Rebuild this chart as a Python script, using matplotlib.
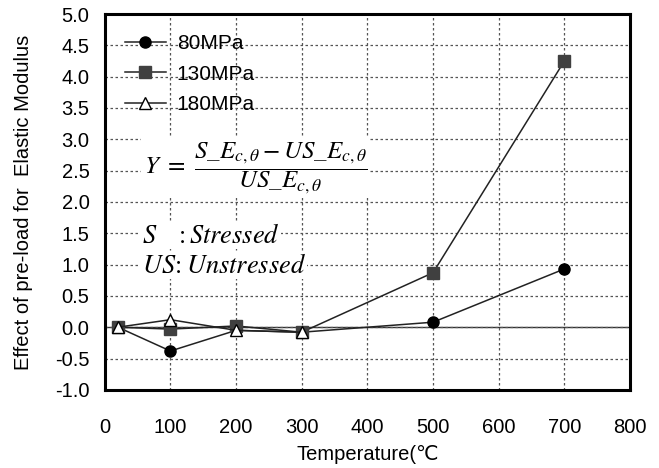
import matplotlib
import matplotlib.pyplot as plt

matplotlib.use('Agg')

plt.rcParams['font.family'] = ['Liberation Sans', 'DejaVu Sans']
plt.rcParams['mathtext.fontset'] = 'stix'

temps_80 = [20, 100, 200, 300, 500, 700]
vals_80 = [0.0, -0.38, -0.05, -0.08, 0.08, 0.93]
temps_130 = [20, 100, 200, 300, 500, 700]
vals_130 = [0.0, -0.03, 0.02, -0.08, 0.87, 4.25]
temps_180 = [20, 100, 200, 300]
vals_180 = [0.0, 0.12, -0.05, -0.08]

fig = plt.figure(figsize=(6.59, 4.68), dpi=100)
ax = fig.add_axes([0.159, 0.167, 0.797, 0.803])

ax.axhline(0, color='#333333', lw=1.0, zorder=1)
ax.plot(temps_80, vals_80, color='#222222', lw=1.1, marker='o', ms=8,
        mfc='black', mec='black', label='80MPa', zorder=3)
ax.plot(temps_130, vals_130, color='#222222', lw=1.1, marker='s', ms=8,
        mfc='#404040', mec='#404040', label='130MPa', zorder=3)
ax.plot(temps_180, vals_180, color='#222222', lw=1.1, marker='^', ms=9,
        mfc='white', mec='black', label='180MPa', zorder=4)

ax.set_xlim(0, 800)
ax.set_ylim(-1.0, 5.0)
ax.set_xticks(range(0, 801, 100))
ax.set_yticks([i * 0.5 - 1.0 for i in range(13)])
ax.set_yticklabels([f'{i * 0.5 - 1.0:.1f}' for i in range(13)])
ax.grid(True, linestyle=(0, (2, 2)), color='#555555', lw=0.9)
ax.tick_params(length=0, labelsize=14.5)
ax.tick_params(axis='x', pad=20)
ax.tick_params(axis='y', pad=11)
for s in ax.spines.values():
    s.set_linewidth(2.2)
    s.set_color('black')

ax.set_xlabel('Temperature(\u2103', fontsize=14.5, labelpad=6)
ax.set_ylabel('Effect of pre-load for  Elastic Modulus', fontsize=14.5, labelpad=16)

leg = ax.legend(loc='upper left', frameon=False, fontsize=15, handlelength=2.0,
                handletextpad=0.5, labelspacing=0.55, borderaxespad=0.3,
                bbox_to_anchor=(0.01, 0.985))

ax.text(0.075, 0.59,
        r'$Y\ =\ \dfrac{S\_E_{c,\theta}-US\_E_{c,\theta}}{US\_E_{c,\theta}}$',
        transform=ax.transAxes, fontsize=18, va='center', ha='left',
        bbox=dict(facecolor='white', edgecolor='none', pad=2), zorder=5)
ax.text(0.07, 0.41, r'$S\quad:Stressed$', transform=ax.transAxes,
        fontsize=19, va='center', ha='left',
        bbox=dict(facecolor='white', edgecolor='none', pad=1), zorder=5)
ax.text(0.07, 0.33, r'$US\!:Unstressed$', transform=ax.transAxes,
        fontsize=19, va='center', ha='left',
        bbox=dict(facecolor='white', edgecolor='none', pad=1), zorder=5)

plt.savefig('out.png', dpi=100)
plt.close()
